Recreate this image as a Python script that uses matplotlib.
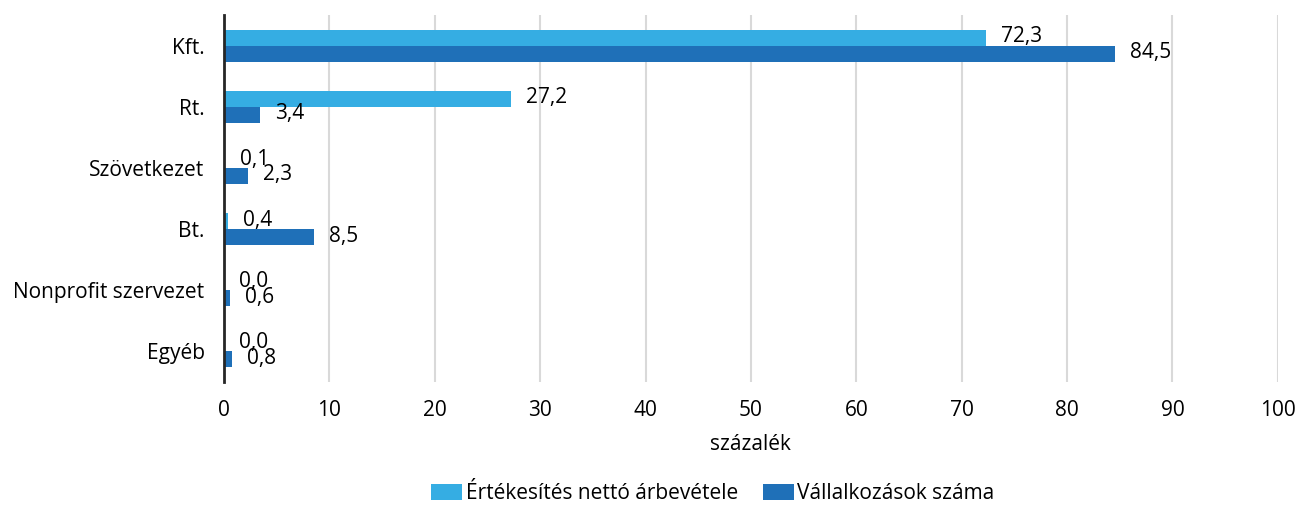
import matplotlib.pyplot as plt
import numpy as np

plt.rcParams['font.family'] = ['Open Sans', 'DejaVu Sans']

# data
categories = ['Kft.', 'Rt.', 'Szövetkezet', 'Bt.', 'Nonprofit szervezet', 'Egyéb']
arbevetel = [72.3, 27.2, 0.1, 0.4, 0.0, 0.0]
vallalkozasok = [84.5, 3.4, 2.3, 8.5, 0.6, 0.8]
series_names = ['Értékesítés nettó árbevétele', 'Vállalkozások száma']
xticks = list(range(0, 101, 10))

c_light = '#35ade3'
c_dark = '#1f70b8'
fs = 15

fig = plt.figure(figsize=(12.96, 5.07), dpi=100)
ax = fig.add_axes([0.1728, 0.2465, 0.8132, 0.7235])

y = np.arange(len(categories))
h = 0.26
b1 = ax.barh(y - h / 2, arbevetel, height=h, color=c_light, label=series_names[0], zorder=2)
b2 = ax.barh(y + h / 2, vallalkozasok, height=h, color=c_dark, label=series_names[1], zorder=2)

fmt = lambda v: f'{v:.1f}'.replace('.', ',')
for bars, vals in ((b1, arbevetel), (b2, vallalkozasok)):
    for bar, v in zip(bars, vals):
        ax.annotate(fmt(v), (v, bar.get_y() + bar.get_height() / 2),
                    xytext=(15, 1), textcoords='offset pixels',
                    ha='left', va='center', fontsize=fs, color='black')

ax.set_ylim(len(categories) - 0.5, -0.5)
ax.set_xlim(0, 100)
ax.set_xticks(xticks)
ax.set_yticks(y)
ax.set_yticklabels(categories, fontsize=fs)
ax.tick_params(axis='x', labelsize=fs, length=0, pad=13)
ax.tick_params(axis='y', length=0, pad=14)
ax.xaxis.grid(True, color='#d9d9d9', linewidth=1.5, zorder=0)
ax.set_axisbelow(True)
for s in ('top', 'right', 'bottom'):
    ax.spines[s].set_visible(False)
ax.spines['left'].set_color('#262626')
ax.spines['left'].set_linewidth(2)
ax.spines['left'].set_zorder(3)

ax.set_xlabel('százalék', fontsize=fs, labelpad=9)

fig.legend(handles=[b1, b2], loc='center', bbox_to_anchor=(0.55, 0.027),
           ncol=2, frameon=False, fontsize=fs, handlelength=1.5, handleheight=0.8,
           handletextpad=0.15, columnspacing=1.2)

fig.savefig('out.png', dpi=100)
